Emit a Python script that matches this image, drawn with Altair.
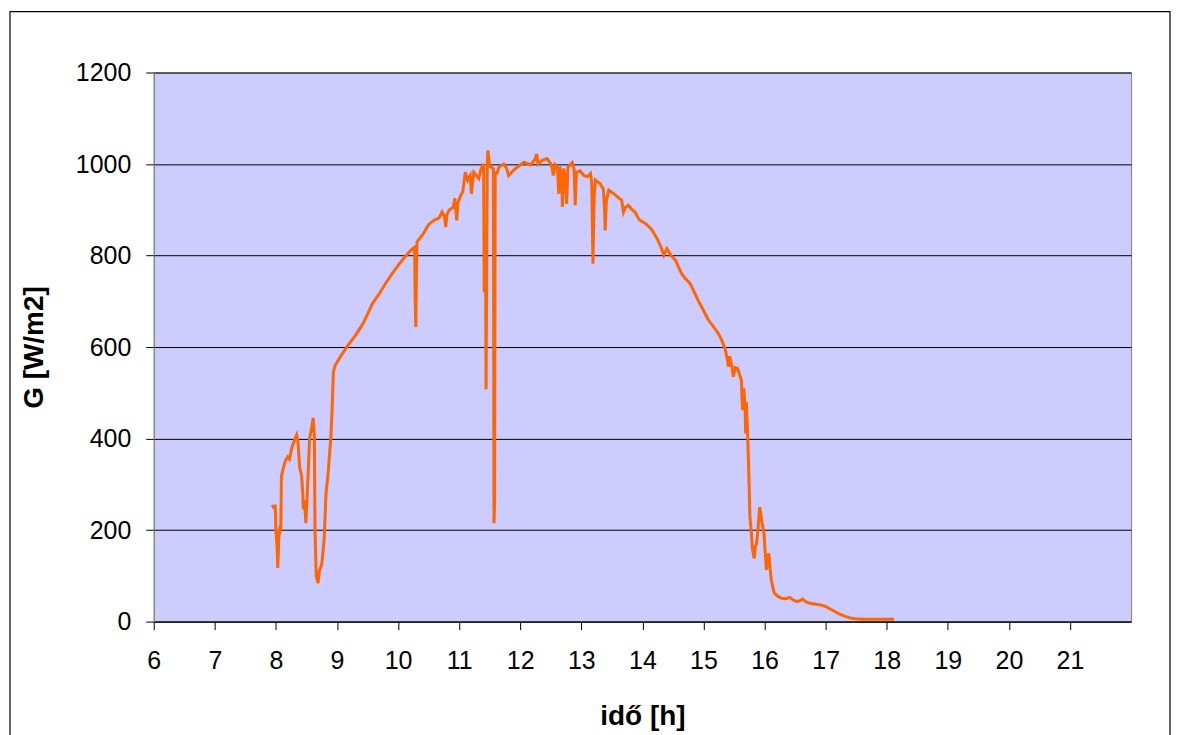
import altair as alt
import pandas as pd

# time of day [h]
time_h = [
    7.94, 7.96, 7.99, 8.00, 8.02, 8.03, 8.04, 8.05, 8.06, 8.07, 8.08, 8.09, 8.12, 8.15, 8.19,
    8.22, 8.26, 8.30, 8.34, 8.36, 8.39, 8.42, 8.44, 8.45, 8.47, 8.49, 8.51, 8.53, 8.55, 8.58,
    8.61, 8.63, 8.64, 8.66, 8.69, 8.71, 8.75, 8.79, 8.82, 8.85, 8.88, 8.90, 8.92, 8.94, 8.97,
    9.06, 9.17, 9.30, 9.42, 9.50, 9.58, 9.70, 9.80, 9.90, 10.01, 10.10, 10.21, 10.27, 10.28,
    10.29, 10.30, 10.31, 10.40, 10.50, 10.60, 10.67, 10.72, 10.76, 10.78, 10.80, 10.84, 10.90,
    10.93, 10.96, 10.98, 11.02, 11.06, 11.10, 11.14, 11.18, 11.20, 11.22, 11.24, 11.28, 11.32,
    11.36, 11.40, 11.41, 11.43, 11.44, 11.46, 11.47, 11.50, 11.56, 11.57, 11.58, 11.59, 11.62,
    11.65, 11.73, 11.78, 11.81, 11.88, 11.95, 12.06, 12.17, 12.24, 12.27, 12.29, 12.36, 12.44,
    12.50, 12.52, 12.54, 12.57, 12.61, 12.63, 12.65, 12.68, 12.69, 12.71, 12.74, 12.76, 12.78,
    12.85, 12.88, 12.90, 12.92, 12.98, 13.04, 13.10, 13.15, 13.17, 13.19, 13.21, 13.23, 13.31,
    13.36, 13.38, 13.39, 13.41, 13.45, 13.56, 13.62, 13.66, 13.69, 13.72, 13.77, 13.83, 13.88,
    13.94, 13.96, 14.05, 14.15, 14.24, 14.30, 14.35, 14.40, 14.47, 14.54, 14.59, 14.64, 14.70,
    14.78, 14.86, 14.92, 15.00, 15.08, 15.16, 15.24, 15.30, 15.35, 15.38, 15.41, 15.43, 15.46,
    15.49, 15.52, 15.56, 15.59, 15.62, 15.63, 15.64, 15.66, 15.68, 15.69, 15.70, 15.72, 15.74,
    15.76, 15.78, 15.80, 15.83, 15.85, 15.87, 15.90, 15.92, 15.94, 15.96, 15.99, 16.01, 16.03,
    16.05, 16.07, 16.09, 16.11, 16.14, 16.16, 16.22, 16.28, 16.35, 16.41, 16.47, 16.52, 16.57,
    16.62, 16.68, 16.74, 16.84, 16.93, 17.00, 17.08, 17.15, 17.23, 17.31, 17.40, 17.48, 17.60,
    17.80, 18.00, 18.12,
]

# global irradiance G [W/m2]
g_wm2 = [
    255, 250, 252, 200, 160, 117, 150, 200, 190, 210, 200, 317, 335, 350, 360,
    355, 380, 395, 408, 395, 335, 320, 280, 245, 265, 215, 270, 330, 400, 420,
    445, 405, 200, 100, 84, 110, 125, 180, 280, 317, 370, 404, 465, 545, 560,
    580, 602, 625, 650, 672, 695, 718, 740, 760, 780, 795, 812, 818, 700,
    644, 760, 830, 845, 868, 878, 882, 895, 885, 862, 890, 900, 905,
    925, 877, 915, 930, 940, 982, 965, 975, 935, 960, 982, 975, 968,
    990, 1000, 720, 850, 508, 1000, 1030, 995, 990, 215, 260, 980, 980,
    993, 1000, 990, 975, 985, 993, 1004, 998, 1010, 1022, 1000, 1008, 1012,
    1000, 993, 975, 998, 990, 935, 995, 960, 906, 990, 970, 913, 993,
    1003, 990, 910, 982, 985, 975, 972, 979, 960, 782, 930, 965, 957,
    945, 900, 855, 920, 943, 932, 925, 921, 895, 905, 910, 900, 895,
    880, 877, 870, 857, 837, 820, 801, 815, 800, 790, 775, 761, 750,
    739, 717, 700, 680, 659, 645, 630, 615, 597, 580, 557, 580, 560,
    535, 555, 553, 540, 528, 490, 462, 510, 470, 411, 480, 420, 331,
    229, 200, 160, 138, 165, 171, 215, 250, 235, 215, 193, 150, 113,
    140, 149, 115, 91, 72, 62, 55, 51, 50, 53, 47, 44, 45,
    49, 43, 40, 38, 36, 33, 27, 22, 16, 12, 8, 6, 5,
    5, 5, 5,
]

x_ticks = list(range(6, 22))
y_ticks = [0, 200, 400, 600, 800, 1000, 1200]

df = pd.DataFrame({"t": time_h, "G": g_wm2, "i": list(range(len(time_h)))})

FONT = "Liberation Sans"

line = alt.Chart(df).mark_line(color="#FF6600", strokeWidth=3).encode(
    x=alt.X(
        "t:Q",
        scale=alt.Scale(domain=[6, 22], nice=False, zero=False),
        axis=alt.Axis(
            values=x_ticks, title="idő [h]", grid=False, tickSize=8,
            tickColor="black", domainColor="black", labelFontSize=25,
            labelPadding=19, labelColor="black", labelFlush=False,
            titleFontSize=28, titleFontWeight="bold", titlePadding=29,
            titleColor="black", labelFont=FONT, titleFont=FONT, format="d",
        ),
    ),
    y=alt.Y(
        "G:Q",
        scale=alt.Scale(domain=[0, 1200], nice=False),
        axis=alt.Axis(
            values=y_ticks, title="G [W/m2]", grid=True, gridColor="black",
            gridWidth=1, tickSize=8, tickColor="black", domainColor="#808080",
            labelFontSize=25, labelPadding=15, labelColor="black",
            labelFlush=False, format="d",
            titleFontSize=28, titleFontWeight="bold", titlePadding=27,
            titleColor="black", labelFont=FONT, titleFont=FONT,
        ),
    ),
    order="i:Q",
)

frame = alt.Chart(pd.DataFrame({"a": [0]})).mark_rect(
    fill="transparent", stroke="black", strokeWidth=1.2
).encode(
    x=alt.value(-144), x2=alt.value(1018), y=alt.value(-61), y2=alt.value(700)
)

chart = (
    alt.layer(frame, line)
    .properties(
        width=979,
        height=550,
        autosize=alt.AutoSizeParams(type="none"),
        padding={"left": 146, "top": 64, "right": 45, "bottom": 113},
        background="white",
    )
    .configure_view(fill="#CCCCFF", stroke="#808080", strokeWidth=1)
)

chart.save("out.html", embed_options={"renderer": "svg", "actions": False})
